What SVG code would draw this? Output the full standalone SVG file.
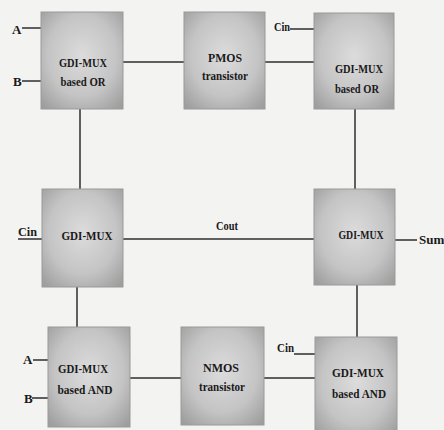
<svg xmlns="http://www.w3.org/2000/svg" width="444" height="430" viewBox="0 0 444 430">
<defs>
<radialGradient id="g" cx="50%" cy="45%" r="70%">
<stop offset="0" stop-color="#dcdcdc"/>
<stop offset="0.6" stop-color="#c4c4c4"/>
<stop offset="1" stop-color="#9e9e9e"/>
</radialGradient>
<style>
.box{fill:url(#g);stroke:#9a9a9a;stroke-width:1}
.t{font-family:"Liberation Serif",serif;font-weight:bold;font-size:13px;fill:#1a1a1a;text-anchor:middle}
.l{font-family:"Liberation Serif",serif;font-weight:bold;font-size:13px;fill:#1a1a1a}
.c line{stroke:#2e2e2e;stroke-width:1.5}
</style>
</defs>
<rect width="444" height="430" fill="#f3f3f1"/>
<g class="c" id="connectors">
<line x1="22" y1="28" x2="41" y2="28"/>
<line x1="22" y1="81" x2="41" y2="81"/>
<line x1="123" y1="62" x2="184" y2="62"/>
<line x1="265" y1="62" x2="314" y2="62"/>
<line x1="290" y1="29" x2="314" y2="29"/>
<line x1="80" y1="109" x2="80" y2="189"/>
<line x1="355" y1="109" x2="355" y2="189"/>
<line x1="18" y1="239" x2="42" y2="239"/>
<line x1="123" y1="239" x2="314" y2="239"/>
<line x1="395" y1="240" x2="417" y2="240"/>
<line x1="77" y1="287" x2="77" y2="327"/>
<line x1="357" y1="285" x2="357" y2="337"/>
<line x1="33" y1="360" x2="48" y2="360"/>
<line x1="32" y1="398" x2="48" y2="398"/>
<line x1="130" y1="378" x2="181" y2="378"/>
<line x1="264" y1="378" x2="315" y2="378"/>
<line x1="294" y1="354" x2="315" y2="354"/>
</g>
<g id="or1"><rect class="box" x="41" y="12" width="82" height="97"/>
<text class="t" x="83" y="67" textLength="48" lengthAdjust="spacingAndGlyphs">GDI-MUX</text>
<text class="t" x="83" y="86" textLength="45" lengthAdjust="spacingAndGlyphs">based OR</text></g>
<g id="pmos"><rect class="box" x="184" y="12" width="81" height="97"/>
<text class="t" x="225" y="62" textLength="34" lengthAdjust="spacingAndGlyphs">PMOS</text>
<text class="t" x="225" y="80" textLength="46" lengthAdjust="spacingAndGlyphs">transistor</text></g>
<g id="or2"><rect class="box" x="314" y="13" width="80" height="96"/>
<text class="t" x="359" y="73" textLength="48" lengthAdjust="spacingAndGlyphs">GDI-MUX</text>
<text class="t" x="357" y="93" textLength="44" lengthAdjust="spacingAndGlyphs">based OR</text></g>
<g id="mux1"><rect class="box" x="42" y="189" width="81" height="98"/>
<text class="t" x="87" y="240" textLength="51" lengthAdjust="spacingAndGlyphs">GDI-MUX</text></g>
<g id="mux2"><rect class="box" x="314" y="189" width="81" height="96"/>
<text class="t" x="361" y="239" textLength="45" lengthAdjust="spacingAndGlyphs">GDI-MUX</text></g>
<g id="and1"><rect class="box" x="48" y="327" width="82" height="100"/>
<text class="t" x="83" y="373" textLength="50" lengthAdjust="spacingAndGlyphs">GDI-MUX</text>
<text class="t" x="85" y="394" textLength="55" lengthAdjust="spacingAndGlyphs">based AND</text></g>
<g id="nmos"><rect class="box" x="181" y="327" width="83" height="98"/>
<text class="t" x="221" y="372" textLength="36" lengthAdjust="spacingAndGlyphs">NMOS</text>
<text class="t" x="222" y="391" textLength="46" lengthAdjust="spacingAndGlyphs">transistor</text></g>
<g id="and2"><rect class="box" x="315" y="337" width="82" height="100"/>
<text class="t" x="358" y="377" textLength="52" lengthAdjust="spacingAndGlyphs">GDI-MUX</text>
<text class="t" x="359" y="398" textLength="54" lengthAdjust="spacingAndGlyphs">based AND</text></g>
<g id="labels">
<text class="l" x="12" y="34">A</text>
<text class="l" x="13" y="86">B</text>
<text class="l" x="274" y="31" textLength="16" lengthAdjust="spacingAndGlyphs">Cin</text>
<text class="l" x="18" y="236" textLength="19" lengthAdjust="spacingAndGlyphs">Cin</text>
<text class="l" x="216" y="230" textLength="22" lengthAdjust="spacingAndGlyphs">Cout</text>
<text class="l" x="419" y="244" font-size="11">Sum</text>
<text class="l" x="23" y="364">A</text>
<text class="l" x="24" y="403">B</text>
<text class="l" x="277" y="352" textLength="17" lengthAdjust="spacingAndGlyphs">Cin</text>
</g>
</svg>
